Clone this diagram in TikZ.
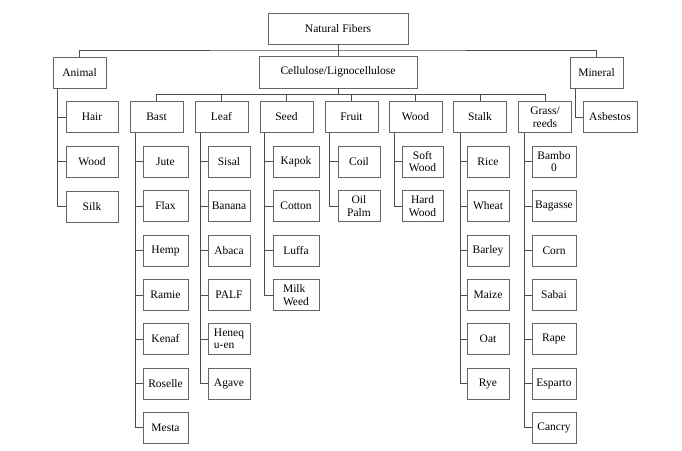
\documentclass[tikz,border=0pt]{standalone}
\usepackage{fontspec}
\setmainfont{Liberation Serif}
\usetikzlibrary{calc}

\tikzstyle{fiberbox} = [draw=black!60, line width=0.8pt, rectangle, inner sep=1pt, minimum height=31pt, align=center, font=\fontsize{11.5}{12.5}\selectfont]
\tikzstyle{classbox} = [fiberbox, minimum width=53pt]
\tikzstyle{itembox} = [fiberbox, minimum width=#1]
\tikzstyle{link} = [draw=black!70, line width=0.8pt]

\begin{document}
\begin{tikzpicture}[x=1pt, y=-1pt]
\useasboundingbox (0,0) rectangle (682,450);
% top levels
\node [fiberbox, minimum width=140pt] (nf) at (338,28.5) {Natural Fibers};
\node [classbox] (animal) at (79.5,72.5) {Animal};
\node [fiberbox, minimum width=158pt, minimum height=32pt] (cell) at (338,72) {Cellulose/Lignocellulose};
\node [classbox] (mineral) at (596.5,72.5) {Mineral};

\node [classbox] (bast) at (156.5,117) {Bast};
\node [classbox] (leaf) at (221.5,117) {Leaf};
\node [classbox] (seed) at (286.5,117) {Seed};
\node [classbox] (fruit) at (351.5,117) {Fruit};
\node [classbox] (wood) at (415.5,117) {Wood};
\node [classbox] (stalk) at (480,117) {Stalk};
\node [classbox] (grass) at (545,117) {Grass/\\reeds};

% animal and mineral
\node [itembox=52pt] (hair) at (92,117) {Hair};
\node [itembox=52pt] (awood) at (92,161.5) {Wood};
\node [itembox=52pt] (silk) at (92,206.5) {Silk};
\node [itembox=54pt] (asbestos) at (610,117) {Asbestos};

% bast
\node [itembox=45pt] (jute) at (165.5,161.5) {Jute};
\node [itembox=45pt] (flax) at (165.5,206) {Flax};
\node [itembox=45pt] (hemp) at (165.5,250.5) {Hemp};
\node [itembox=45pt] (ramie) at (165.5,295) {Ramie};
\node [itembox=45pt] (kenaf) at (165.5,339) {Kenaf};
\node [itembox=45pt] (roselle) at (165.5,383.5) {Roselle};
\node [itembox=45pt] (mesta) at (165.5,427.5) {Mesta};

% leaf
\node [itembox=42pt] (sisal) at (229,161.5) {Sisal};
\node [itembox=42pt] (banana) at (229,206) {Banana};
\node [itembox=42pt] (abaca) at (229,250.5) {Abaca};
\node [itembox=42pt] (palf) at (229,295) {PALF};
\node [itembox=42pt, align=left] (henequen) at (229,339) {Heneq\\u-en};
\node [itembox=42pt] (agave) at (229,383.5) {Agave};

% seed
\node [itembox=46pt] (kapok) at (296,161.5) {Kapok};
\node [itembox=46pt] (cotton) at (296,206) {Cotton};
\node [itembox=46pt] (luffa) at (296,250.5) {Luffa};
\node [itembox=46pt, align=left] (milkweed) at (296,295) {Milk\\Weed};

% fruit and wood
\node [itembox=42pt] (coil) at (359,161.5) {Coil};
\node [itembox=42pt] (oilpalm) at (359,206) {Oil\\Palm};
\node [itembox=41pt] (softwood) at (422.5,161.5) {Soft\\Wood};
\node [itembox=41pt] (hardwood) at (422.5,206) {Hard\\Wood};

% stalk
\node [itembox=42pt] (rice) at (488,161.5) {Rice};
\node [itembox=42pt] (wheat) at (488,206) {Wheat};
\node [itembox=42pt] (barley) at (488,250.5) {Barley};
\node [itembox=42pt] (maize) at (488,295) {Maize};
\node [itembox=42pt] (oat) at (488,339) {Oat};
\node [itembox=42pt] (rye) at (488,383.5) {Rye};

% grass/reeds
\node [itembox=44pt] (bamboo) at (554,161.5) {Bambo\\0};
\node [itembox=44pt] (bagasse) at (554,206) {Bagasse};
\node [itembox=44pt] (corn) at (554,250.5) {Corn};
\node [itembox=44pt] (sabai) at (554,295) {Sabai};
\node [itembox=44pt] (rape) at (554,339) {Rape};
\node [itembox=44pt] (esparto) at (554,383.5) {Esparto};
\node [itembox=44pt] (cancry) at (554,427.5) {Cancry};

% buses
\coordinate (tbus) at ($(nf.south)!.5!(cell.north)$);
\coordinate (cbus) at ($(cell.south)!.5!(cell.south |- bast.north)$);
\draw [link] (nf.south) -- (cell.north);
\draw [link] (animal.north) |- (tbus) -| (mineral.north);
\draw [link] (cell.south) -- (cbus);
\draw [link] (bast.north) |- (cbus) -| (grass.north);
\draw [link] (leaf.north) -- (leaf.north |- cbus);
\draw [link] (seed.north) -- (seed.north |- cbus);
\draw [link] (fruit.north) -- (fruit.north |- cbus);
\draw [link] (wood.north) -- (wood.north |- cbus);
\draw [link] (stalk.north) -- (stalk.north |- cbus);

% trunks
\draw [link] ([xshift=5pt]animal.south west) |- (hair.west)
  ([xshift=5pt]animal.south west) |- (awood.west)
  ([xshift=5pt]animal.south west) |- (silk.west);
\draw [link] ([xshift=6pt]mineral.south west) |- (asbestos.west);
\draw [link] ([xshift=6pt]bast.south west) |- (jute.west)
  ([xshift=6pt]bast.south west) |- (flax.west)
  ([xshift=6pt]bast.south west) |- (hemp.west)
  ([xshift=6pt]bast.south west) |- (ramie.west)
  ([xshift=6pt]bast.south west) |- (kenaf.west)
  ([xshift=6pt]bast.south west) |- (roselle.west)
  ([xshift=6pt]bast.south west) |- (mesta.west);
\draw [link] ([xshift=6pt]leaf.south west) |- (sisal.west)
  ([xshift=6pt]leaf.south west) |- (banana.west)
  ([xshift=6pt]leaf.south west) |- (abaca.west)
  ([xshift=6pt]leaf.south west) |- (palf.west)
  ([xshift=6pt]leaf.south west) |- (henequen.west)
  ([xshift=6pt]leaf.south west) |- (agave.west);
\draw [link] ([xshift=5pt]seed.south west) |- (kapok.west)
  ([xshift=5pt]seed.south west) |- (cotton.west)
  ([xshift=5pt]seed.south west) |- (luffa.west)
  ([xshift=5pt]seed.south west) |- (milkweed.west);
\draw [link] ([xshift=5pt]fruit.south west) |- (coil.west)
  ([xshift=5pt]fruit.south west) |- (oilpalm.west);
\draw [link] ([xshift=6pt]wood.south west) |- (softwood.west)
  ([xshift=6pt]wood.south west) |- (hardwood.west);
\draw [link] ([xshift=7pt]stalk.south west) |- (rice.west)
  ([xshift=7pt]stalk.south west) |- (wheat.west)
  ([xshift=7pt]stalk.south west) |- (barley.west)
  ([xshift=7pt]stalk.south west) |- (maize.west)
  ([xshift=7pt]stalk.south west) |- (oat.west)
  ([xshift=7pt]stalk.south west) |- (rye.west);
\draw [link] ([xshift=6pt]grass.south west) |- (bamboo.west)
  ([xshift=6pt]grass.south west) |- (bagasse.west)
  ([xshift=6pt]grass.south west) |- (corn.west)
  ([xshift=6pt]grass.south west) |- (sabai.west)
  ([xshift=6pt]grass.south west) |- (rape.west)
  ([xshift=6pt]grass.south west) |- (esparto.west)
  ([xshift=6pt]grass.south west) |- (cancry.west);
\end{tikzpicture}
\end{document}
